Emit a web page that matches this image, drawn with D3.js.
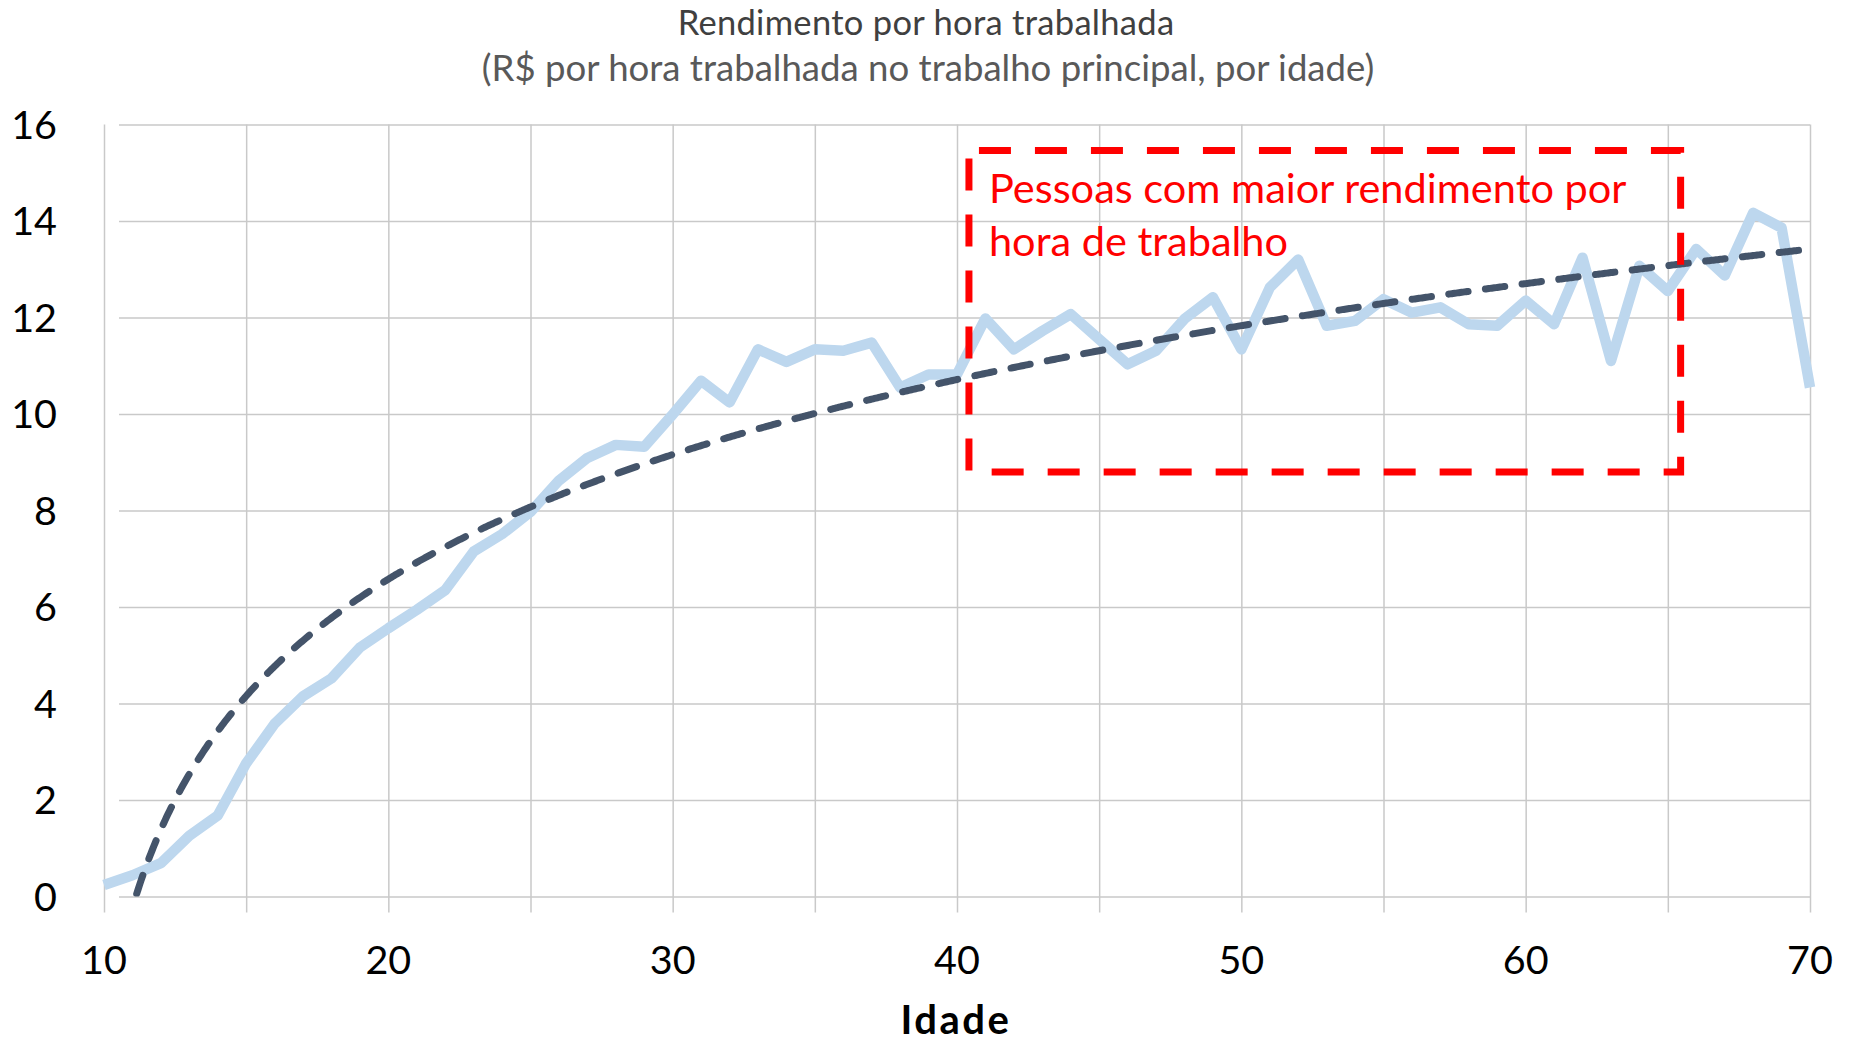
<!DOCTYPE html>
<html>
<head>
<meta charset="utf-8">
<script src="https://cdn.jsdelivr.net/npm/d3@7/dist/d3.min.js"></script>
<style>
  html, body { margin: 0; padding: 0; background: #ffffff; }
  svg { display: block; }
  text { font-family: Lato, "Open Sans", sans-serif; }
</style>
</head>
<body>
<svg id="chart" width="1849" height="1043"></svg>
<script>
// ---- data ----
const ages = d3.range(10, 71);
const rendimento = [
  0.24, 0.44, 0.69, 1.26, 1.68, 2.76, 3.58, 4.15, 4.52, 5.16,
  5.56, 5.94, 6.35, 7.15, 7.51, 7.97, 8.62, 9.09, 9.36, 9.32,
  9.99, 10.69, 10.24, 11.34, 11.08, 11.34, 11.31, 11.48, 10.55, 10.82,
  10.82, 11.98, 11.34, 11.72, 12.07, 11.55, 11.03, 11.31, 11.97, 12.42,
  11.34, 12.62, 13.20, 11.83, 11.93, 12.38, 12.10, 12.21, 11.86, 11.83,
  12.35, 11.86, 13.24, 11.10, 13.07, 12.55, 13.42, 12.87, 14.17, 13.86,
  10.55
];
const yTicks = [0, 2, 4, 6, 8, 10, 12, 14, 16];
const xGridTicks = [10, 15, 20, 25, 30, 35, 40, 45, 50, 55, 60, 65, 70];
const xLabelTicks = [10, 20, 30, 40, 50, 60, 70];
const titleText = "Rendimento por hora trabalhada";
const subtitleText = "(R$ por hora trabalhada no trabalho principal, por idade)";
const xAxisTitle = "Idade";
const annotationLines = ["Pessoas com maior rendimento por", "hora de trabalho"];

// ---- layout ----
const W = 1849, H = 1043;
const plot = { left: 104, right: 1810, top: 124.5, bottom: 896.5 };
const svg = d3.select("#chart");

const x = d3.scaleLinear().domain([10, 70]).range([plot.left, plot.right]);
const y = d3.scaleLinear().domain([0, 16]).range([plot.bottom, plot.top]);

const gridColor = "#c9c9c9";

// horizontal gridlines (with outer tick to the left)
svg.append("g")
  .attr("transform", `translate(${plot.left},0)`)
  .call(d3.axisLeft(y).tickValues(yTicks).tickSize(-(plot.right - plot.left)).tickSizeOuter(0).tickFormat(""))
  .call(g => g.select(".domain").remove())
  .call(g => g.selectAll("line").attr("stroke", gridColor).attr("stroke-width", 1.5).attr("x1", 15));

// vertical gridlines (with tick below)
svg.append("g")
  .attr("transform", `translate(0,${plot.bottom})`)
  .call(d3.axisBottom(x).tickValues(xGridTicks).tickSize(-(plot.bottom - plot.top)).tickSizeOuter(0).tickFormat(""))
  .call(g => g.select(".domain").remove())
  .call(g => g.selectAll("line").attr("stroke", gridColor).attr("stroke-width", 1.5).attr("y1", 16));

// y labels
svg.append("g")
  .selectAll("text").data(yTicks).join("text")
  .attr("x", 57).attr("y", d => y(d)).attr("dy", "0.36em")
  .attr("text-anchor", "end").attr("font-size", 39.5).attr("fill", "#000")
  .text(d => d);

// x labels
svg.append("g")
  .selectAll("text").data(xLabelTicks).join("text")
  .attr("x", d => x(d)).attr("y", 974)
  .attr("text-anchor", "middle").attr("font-size", 39.5).attr("fill", "#000")
  .text(d => d);

// axis title
svg.append("text")
  .attr("x", 956).attr("y", 1034)
  .attr("text-anchor", "middle").attr("font-size", 40).attr("font-weight", "bold")
  .attr("letter-spacing", 2.5).attr("fill", "#000")
  .text(xAxisTitle);

// titles
svg.append("text")
  .attr("x", 926).attr("y", 35)
  .attr("text-anchor", "middle").attr("font-size", 34.5).attr("letter-spacing", 0.3).attr("fill", "#404040")
  .text(titleText);
svg.append("text")
  .attr("x", 928).attr("y", 81)
  .attr("text-anchor", "middle").attr("font-size", 36.6).attr("fill", "#595959")
  .text(subtitleText);

// clip
svg.append("clipPath").attr("id", "plotclip")
  .append("rect").attr("x", plot.left - 6).attr("y", plot.top - 10)
  .attr("width", plot.right - plot.left + 12).attr("height", plot.bottom - plot.top + 10);

const series = ages.map((a, i) => ({ age: a, v: rendimento[i] }));

// data line
svg.append("path")
  .datum(series)
  .attr("fill", "none").attr("stroke", "#bdd7ee").attr("stroke-width", 10.5)
  .attr("stroke-linejoin", "round").attr("stroke-linecap", "butt")
  .attr("d", d3.line().x(d => x(d.age)).y(d => y(d.v)));

// logarithmic trendline (least squares on category index, as the spreadsheet does)
const idx = series.map((d, i) => Math.log(i + 1));
const vals = series.map(d => d.v);
const mx = d3.mean(idx), my = d3.mean(vals);
const slope = d3.sum(idx.map((l, i) => (l - mx) * (vals[i] - my))) / d3.sum(idx.map(l => (l - mx) * (l - mx)));
const intercept = my - slope * mx;
const trendFn = a => slope * Math.log(a - 9) + intercept;
const trendAges = d3.range(10, 70.001, 0.05);
const trend = trendAges.map(a => ({ age: a, v: trendFn(a) })).filter(d => d.v >= 0);

svg.append("path")
  .datum(trend)
  .attr("clip-path", "url(#plotclip)")
  .attr("fill", "none").attr("stroke", "#44546a").attr("stroke-width", 7)
  .attr("stroke-linecap", "round").attr("stroke-dasharray", "19.5,17.5")
  .attr("d", d3.line().x(d => x(d.age)).y(d => y(d.v)));

// annotation box
const boxAge = [40.42, 65.45], boxVal = [8.8, 15.46];
const bx0 = x(boxAge[0]), bx1 = x(boxAge[1]), by0 = y(boxVal[1]), by1 = y(boxVal[0]);
svg.append("rect")
  .attr("x", bx0).attr("y", by0).attr("width", bx1 - bx0).attr("height", by1 - by0)
  .attr("fill", "none").attr("stroke", "#ff0000").attr("stroke-width", 7)
  .attr("stroke-dasharray", "32,24").attr("stroke-dashoffset", -10);

svg.append("g")
  .selectAll("text").data(annotationLines).join("text")
  .attr("x", bx0 + 20).attr("y", (d, i) => by0 + 52 + i * 53)
  .attr("font-size", 41.5).attr("fill", "#ff0000")
  .text(d => d);
</script>
</body>
</html>
